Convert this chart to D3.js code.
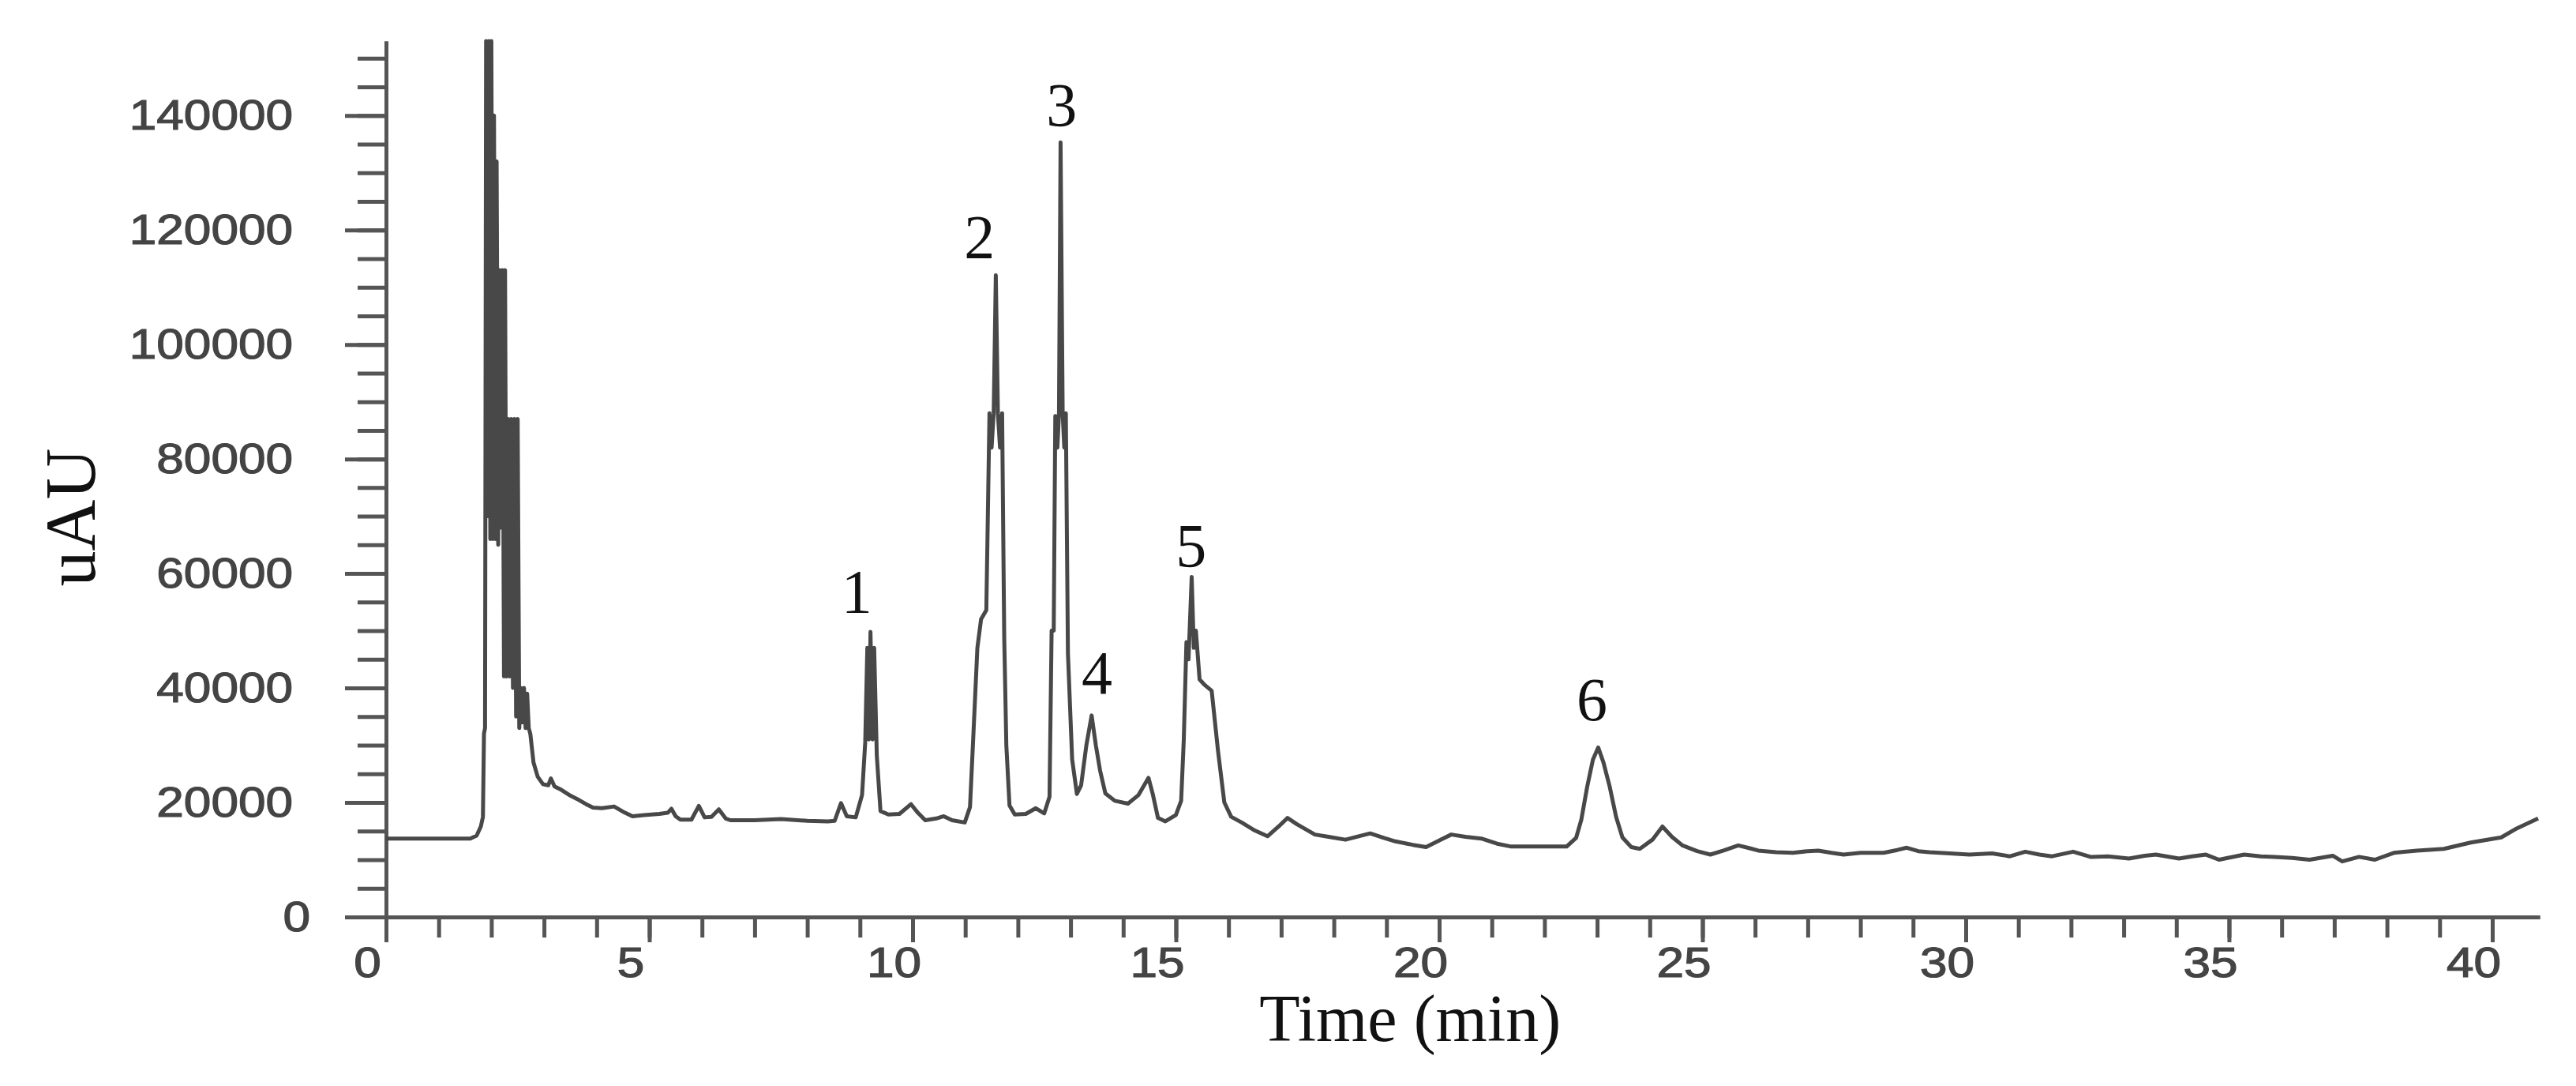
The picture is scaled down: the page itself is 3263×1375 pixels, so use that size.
<!DOCTYPE html>
<html lang="en">

<head>
    <meta charset="UTF-8">
    <title>Chromatogram using D3.js</title>
    <script src="https://d3js.org/d3.v7.min.js"></script>
    <style>
        body { margin: 0; background: #fff; }
        svg { display: block; }
    </style>
</head>

<body>

    <script>
        const width = 3263;
        const height = 1375;

        // retention time (min) and detector signal (uAU)
        const timeMin = [
            0.0, 1.0, 1.6, 1.72, 1.80, 1.84, 1.86, 1.88, 1.90, 1.93,
            1.95, 1.98, 2.00, 2.03, 2.05, 2.08, 2.10, 2.13, 2.16, 2.19,
            2.21, 2.24, 2.26, 2.29, 2.32, 2.35, 2.38, 2.41, 2.44, 2.47,
            2.50, 2.53, 2.56, 2.59, 2.62, 2.65, 2.68, 2.71, 2.74, 2.80,
            2.88, 2.98, 3.08, 3.13, 3.20, 3.33, 3.50, 3.63, 3.80, 3.93,
            4.10, 4.33, 4.50, 4.68, 4.90, 5.19, 5.35, 5.42, 5.50, 5.59,
            5.80, 5.94, 6.05, 6.18, 6.32, 6.45, 6.54, 7.00, 7.50, 8.00,
            8.39, 8.52, 8.64, 8.75, 8.92, 9.04, 9.10, 9.14, 9.17, 9.20,
            9.24, 9.27, 9.32, 9.39, 9.54, 9.75, 9.97, 10.10, 10.24, 10.45,
            10.59, 10.75, 10.99, 11.09, 11.16, 11.23, 11.30, 11.40, 11.46, 11.50,
            11.54, 11.58, 11.62, 11.66, 11.70, 11.74, 11.78, 11.84, 11.94, 12.15,
            12.34, 12.50, 12.60, 12.64, 12.68, 12.71, 12.75, 12.78, 12.81, 12.85,
            12.88, 12.91, 12.95, 13.03, 13.12, 13.20, 13.30, 13.40, 13.48, 13.56,
            13.66, 13.84, 14.09, 14.29, 14.48, 14.56, 14.66, 14.80, 15.00, 15.10,
            15.15, 15.20, 15.24, 15.30, 15.34, 15.38, 15.45, 15.55, 15.68, 15.80,
            15.92, 16.05, 16.25, 16.50, 16.74, 16.95, 17.12, 17.30, 17.64, 17.90,
            18.22, 18.69, 18.95, 19.17, 19.50, 19.75, 20.05, 20.23, 20.50, 20.80,
            21.10, 21.37, 22.00, 22.42, 22.60, 22.70, 22.81, 22.92, 23.02, 23.12,
            23.24, 23.36, 23.48, 23.65, 23.81, 24.05, 24.24, 24.42, 24.62, 24.90,
            25.15, 25.40, 25.68, 25.90, 26.06, 26.40, 26.72, 27.00, 27.20, 27.45,
            27.68, 28.00, 28.44, 28.70, 28.88, 29.10, 29.31, 29.70, 30.07, 30.50,
            30.84, 31.13, 31.40, 31.64, 32.04, 32.37, 32.70, 33.10, 33.40, 33.61,
            34.05, 34.30, 34.56, 34.81, 35.29, 35.60, 35.87, 36.20, 36.53, 36.97,
            37.15, 37.47, 37.77, 38.13, 38.57, 39.08, 39.59, 40.17, 40.47, 40.87
        ];
        const signal = [
            13700, 13700, 13700, 14200, 15800, 17500, 32000, 33000, 153000, 70000,
            153000, 66000, 153000, 66000, 140000, 66000, 132000, 65000, 113000, 68000,
            113000, 42000, 113000, 42000, 87000, 42000, 87000, 40000, 87000, 35000,
            87000, 33000, 40000, 34000, 40000, 33000, 39000, 33000, 32000, 27000,
            24500, 23200, 23000, 24200, 22800, 22200, 21200, 20600, 19700, 19100,
            19000, 19300, 18400, 17600, 17800, 18000, 18200, 18900, 17600, 17000,
            17000, 19400, 17400, 17500, 18800, 17200, 16900, 16900, 17100, 16800,
            16700, 16800, 19900, 17600, 17400, 21300, 30500, 47000, 31000, 49800,
            31000, 47000, 28200, 18500, 17900, 18000, 19700, 18200, 16900, 17200,
            17600, 16900, 16500, 19200, 33000, 47000, 52000, 53600, 88000, 82000,
            88000, 112100, 88000, 82000, 88000, 48800, 30000, 19500, 17900, 18000,
            19000, 18100, 21000, 50000, 50000, 87500, 82000, 88000, 135300, 88000,
            82000, 88000, 46000, 27500, 21500, 23000, 30000, 35200, 30000, 25600,
            21600, 20300, 19800, 21300, 24300, 21500, 17300, 16700, 17800, 20300,
            31000, 48000, 45000, 59400, 47000, 50000, 41500, 40500, 39500, 29000,
            20000, 17500, 16500, 15100, 14100, 15800, 17300, 16200, 14400, 14000,
            13500, 14600, 13800, 13200, 12600, 12200, 13600, 14400, 14000, 13700,
            12800, 12300, 12300, 12300, 13800, 17000, 22700, 27500, 29600, 27000,
            22700, 17500, 13900, 12200, 11900, 13500, 15800, 14000, 12500, 11500,
            10900, 11600, 12500, 12000, 11600, 11300, 11200, 11500, 11600, 11200,
            10900, 11200, 11200, 11700, 12100, 11500, 11300, 11100, 10900, 11100,
            10600, 11400, 10900, 10600, 11400, 10500, 10600, 10200, 10700, 10900,
            10200, 10600, 10900, 10000, 10900, 10600, 10500, 10300, 10000, 10700,
            9700, 10500, 10000, 11200, 11600, 11900, 13000, 13900, 15500, 17200
        ];

        // numbered peaks and where their labels sit
        const peakNames = ["1", "2", "3", "4", "5", "6"];
        const peakLabelTime = [8.94, 11.27, 12.83, 13.50, 15.29, 22.9];
        const peakLabelValue = [57000, 119000, 142000, 42800, 65000, 38100];

        const xTicks = [0, 5, 10, 15, 20, 25, 30, 35, 40];
        const yTicks = [0, 20000, 40000, 60000, 80000, 100000, 120000, 140000];

        const x = d3.scaleLinear().domain([0, 40.9]).range([489, 3217]);
        const y = d3.scaleLinear().domain([0, 153000]).range([1161, 52]);

        const svg = d3.select("body")
            .append("svg")
            .attr("width", width)
            .attr("height", height)
            .style("background", "#fff");

        const axisColor = "#555";
        const tickFont = "'Liberation Sans', Arial, sans-serif";
        const serif = "'Liberation Serif', 'Times New Roman', serif";
        const stretch = 1.15; // tick digits are drawn a bit wide in the original

        // x axis: minor ticks every minute, labelled ticks every 5
        const gx = svg.append("g").attr("transform", `translate(0,${y(0)})`);
        gx.append("g")
            .call(d3.axisBottom(x).tickValues(d3.range(0, 41, 1)).tickSize(26).tickSizeOuter(0).tickFormat(""));
        gx.append("g")
            .call(d3.axisBottom(x).tickValues(xTicks).tickSize(32).tickSizeOuter(0).tickPadding(6));

        // y axis: minor ticks every 5000
        const gy = svg.append("g").attr("transform", `translate(${x(0)},0)`);
        gy.append("g")
            .call(d3.axisLeft(y).tickValues(d3.range(0, 153000, 5000)).tickSize(36).tickSizeOuter(0).tickFormat(""));
        gy.append("g")
            .call(d3.axisLeft(y).tickValues(yTicks).tickSize(52).tickSizeOuter(0).tickPadding(66).tickFormat(d3.format("d")));

        svg.selectAll(".domain, .tick line")
            .attr("stroke", axisColor)
            .attr("stroke-width", 5);

        gx.selectAll("text")
            .attr("dx", -24 / stretch)
            .attr("transform", `scale(${stretch},1)`)
            .style("font-family", tickFont)
            .style("font-size", "54px")
            .attr("fill", "#444")
            .attr("stroke", "#444")
            .attr("stroke-width", 1.2);

        // the zero label sits a little closer to the axis than the others
        gy.selectAll("text")
            .attr("x", d => (d === 0 ? -96 : -118) / stretch)
            .attr("transform", `scale(${stretch},1)`)
            .style("font-family", tickFont)
            .style("font-size", "54px")
            .attr("fill", "#444")
            .attr("stroke", "#444")
            .attr("stroke-width", 1.2);

        // chromatogram trace
        const trace = d3.zip(timeMin, signal);
        svg.append("path")
            .datum(trace)
            .attr("fill", "none")
            .attr("stroke", "#484848")
            .attr("stroke-width", 5)
            .attr("stroke-linejoin", "round")
            .attr("d", d3.line().x(d => x(d[0])).y(d => y(d[1])));

        // peak numbers
        svg.selectAll(".peak")
            .data(peakNames)
            .enter()
            .append("text")
            .attr("class", "peak")
            .attr("x", (d, i) => x(peakLabelTime[i]))
            .attr("y", (d, i) => y(peakLabelValue[i]))
            .attr("dy", "0.35em")
            .attr("text-anchor", "middle")
            .style("font-family", serif)
            .style("font-size", "78px")
            .attr("fill", "#111")
            .text(d => d);

        // axis titles
        svg.append("text")
            .attr("x", x(19.45))
            .attr("y", 1318)
            .attr("text-anchor", "middle")
            .style("font-family", serif)
            .style("font-size", "84px")
            .attr("fill", "#111")
            .text("Time (min)");

        svg.append("text")
            .attr("transform", "translate(120,655) rotate(-90)")
            .attr("text-anchor", "middle")
            .style("font-family", serif)
            .style("font-size", "90px")
            .attr("fill", "#111")
            .text("uAU");
    </script>
</body>

</html>
